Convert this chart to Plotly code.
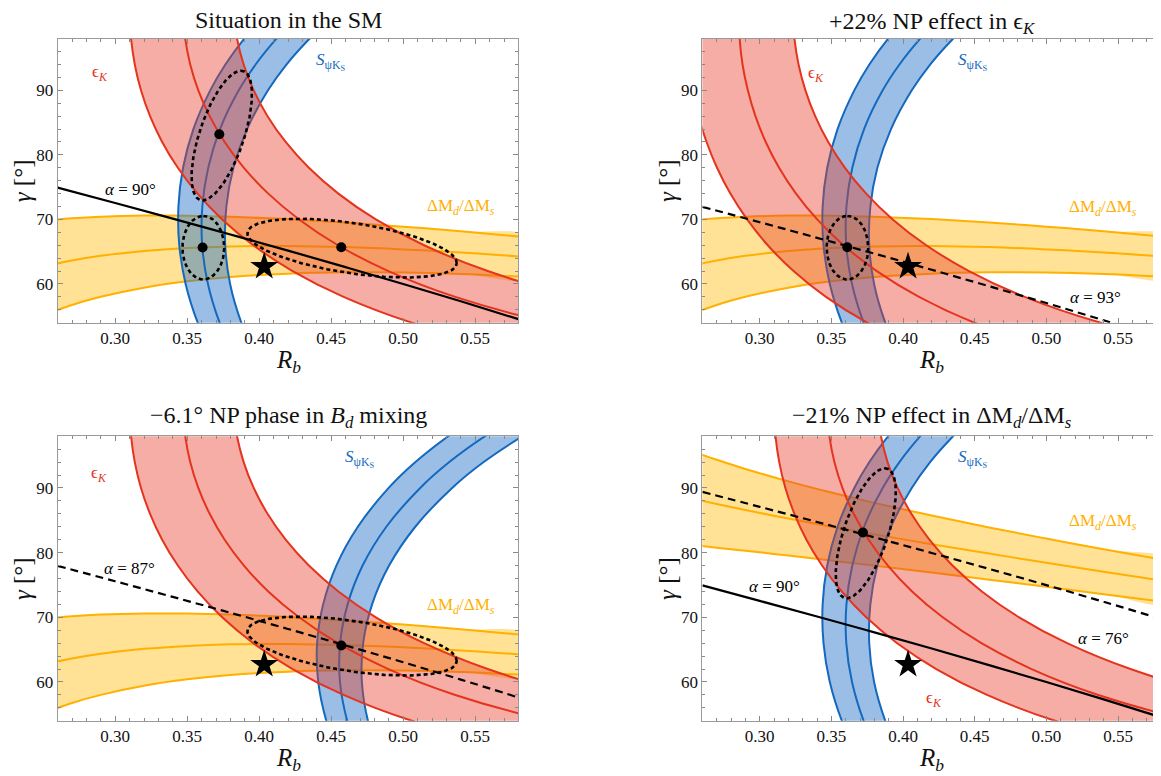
import numpy as np
import plotly.graph_objects as go

# ---------------- data ----------------
TITLES = ["Situation in the SM",
          "+22% NP effect in ϵ<sub><i>K</i></sub>",
          "−6.1° NP phase in <i>B<sub>d</sub></i> mixing",
          "−21% NP effect in ΔM<sub><i>d</i></sub>/ΔM<sub><i>s</i></sub>"]
X_RANGE = [0.26, 0.58]
Y_RANGE = [54, 98]

# S_psiKs bands: R_b at given gamma
GAMMA_S = [50, 54, 60, 66, 72, 78, 84, 90, 94, 98, 101]
S_SM_LOW = [0.3655, 0.3573, 0.3489, 0.3445, 0.3439, 0.3471, 0.3543, 0.3660, 0.3765, 0.3896, 0.4013]
S_SM_MID = [0.3805, 0.3725, 0.3644, 0.3604, 0.3605, 0.3646, 0.3728, 0.3858, 0.3975, 0.4120, 0.4249]
S_SM_HIGH = [0.3954, 0.3876, 0.3798, 0.3764, 0.3772, 0.3821, 0.3916, 0.4061, 0.4189, 0.4349, 0.4489]
S_NP_LOW = [0.4532, 0.4466, 0.4410, 0.4402, 0.4444, 0.4536, 0.4685, 0.4899, 0.5085, 0.5313, 0.5516]
S_NP_MID = [0.4673, 0.4611, 0.4561, 0.4562, 0.4614, 0.4718, 0.4883, 0.5118, 0.5320, 0.5568, 0.5789]
S_NP_HIGH = [0.4814, 0.4755, 0.4713, 0.4722, 0.4784, 0.4902, 0.5084, 0.5340, 0.5559, 0.5829, 0.6069]

# epsilon_K bands: R_b at given gamma
GAMMA_EK = [50, 54, 58, 62, 66, 70, 74, 78, 82, 86, 90, 94, 98, 101]
EK_SM_LOW = [0.5741, 0.5060, 0.4586, 0.4232, 0.3959, 0.3743, 0.3572, 0.3435, 0.3326, 0.3242, 0.3179, 0.3136, 0.3110, 0.3101]
EK_SM_MID = [0.7108, 0.6022, 0.5362, 0.4897, 0.4547, 0.4277, 0.4063, 0.3894, 0.3760, 0.3656, 0.3577, 0.3521, 0.3486, 0.3472]
EK_SM_HIGH = [0.9932, 0.7158, 0.6202, 0.5587, 0.5145, 0.4810, 0.4550, 0.4345, 0.4184, 0.4058, 0.3962, 0.3892, 0.3846, 0.3826]
EK_NP_LOW = [0.4126, 0.3750, 0.3462, 0.3236, 0.3056, 0.2912, 0.2795, 0.2702, 0.2629, 0.2572, 0.2532, 0.2505, 0.2491, 0.2490]
EK_NP_MID = [0.5027, 0.4498, 0.4112, 0.3817, 0.3585, 0.3401, 0.3253, 0.3135, 0.3042, 0.2970, 0.2917, 0.2880, 0.2860, 0.2855]
EK_NP_HIGH = [0.6170, 0.5380, 0.4849, 0.4460, 0.4162, 0.3928, 0.3743, 0.3595, 0.3478, 0.3387, 0.3319, 0.3271, 0.3242, 0.3232]

# Delta M_d / Delta M_s bands: gamma at given R_b
RB_DM = [0.25, 0.27, 0.29, 0.32, 0.35, 0.38, 0.42, 0.46, 0.50, 0.54, 0.59]
DM_SM_HIGH = [69.79, 70.17, 70.42, 70.59, 70.58, 70.42, 70.05, 69.52, 68.88, 68.16, 67.14]
DM_SM_MID = [62.70, 63.64, 64.36, 65.12, 65.58, 65.82, 65.88, 65.71, 65.36, 64.88, 64.12]
DM_SM_LOW = [55.16, 56.75, 58.01, 59.42, 60.41, 61.08, 61.60, 61.80, 61.76, 61.53, 61.04]
DM_NP_HIGH = [95.89, 94.35, 92.94, 91.02, 89.29, 87.69, 85.73, 83.90, 82.17, 80.53, 78.55]
DM_NP_MID = [88.50, 87.51, 86.58, 85.26, 84.01, 82.82, 81.31, 79.85, 78.43, 77.04, 75.34]
DM_NP_LOW = [81.23, 80.77, 80.29, 79.55, 78.78, 77.99, 76.92, 75.82, 74.71, 73.58, 72.14]

# alpha lines: gamma at given R_b
RB_ALPHA = [0.26, 0.30, 0.34, 0.38, 0.42, 0.46, 0.50, 0.54, 0.58]
ALPHA_90 = [74.93, 72.54, 70.12, 67.67, 65.17, 62.61, 60.00, 57.32, 54.55]
ALPHA_93 = [71.95, 69.57, 67.15, 64.70, 62.20, 59.65, 57.05, 54.37, 51.61]
ALPHA_87 = [77.95, 75.57, 73.15, 70.70, 68.20, 65.65, 63.05, 60.37, 57.61]
ALPHA_76 = [89.39, 87.08, 84.74, 82.36, 79.95, 77.49, 74.98, 72.40, 69.75]

# ellipses: centre (Rb, gamma), axis vectors u and v (Rb, gamma)
ELL_UPPER = dict(c=(0.3740, 83.0), u=(0.0133, 10.05), v=(0.0162, 0.0))
ELL_LOWER = dict(c=(0.3612, 65.62), u=(0.0, 4.92), v=(0.0145, 0.0))
ELL_RIGHT = dict(c=(0.4645, 65.55), u=(0.0727, -2.3), v=(0.0, 3.93))

# best-fit points and star
DOTS_P1_X = [0.3723, 0.3607, 0.4570]
DOTS_P1_Y = [83.2, 65.65, 65.7]
DOTS_P2_X, DOTS_P2_Y = [0.3611], [65.7]
DOTS_P3_X, DOTS_P3_Y = [0.4570], [65.65]
DOTS_P4_X, DOTS_P4_Y = [0.3720], [83.1]
STAR_X, STAR_Y = [0.4035], [62.7]

# ---------------- styling ----------------
FONT = "Liberation Serif, DejaVu Serif, serif"
RED_LINE = "rgb(228,52,30)"
RED_FILL = "rgba(230,60,40,0.42)"
BLUE_LINE = "rgb(20,105,190)"
BLUE_FILL = "rgba(30,110,200,0.45)"
ORA_LINE = "rgb(255,176,0)"
ORA_FILL = "rgba(255,190,20,0.45)"

W, H = 1161, 776
OFF = 8  # page margin of the html body
PANEL_PX = [((57.6, 518.4), (38.7, 322.7)),
            ((702.4, 1161.0), (38.7, 322.7)),
            ((57.6, 518.4), (436.2, 720.8)),
            ((702.4, 1161.0), (436.2, 720.8))]
TITLE_DY = [19, 16, 19, 19]


def fx(px):
    return (px - OFF) / W


def fy(py):
    return 1 - (py - OFF) / H


fig = go.Figure()


def axn(i):
    return ("x", "y") if i == 1 else (f"x{i}", f"y{i}")


def add_band(i, lo, mid, hi, fillc, linec):
    xa, ya = axn(i)
    px = list(lo[0]) + list(hi[0])[::-1]
    py = list(lo[1]) + list(hi[1])[::-1]
    fig.add_trace(go.Scatter(x=px, y=py, mode="lines", fill="toself", fillcolor=fillc,
                             line=dict(width=0, shape="spline", color=fillc),
                             hoverinfo="skip", showlegend=False, xaxis=xa, yaxis=ya))
    for cx, cy in (lo, mid, hi):
        fig.add_trace(go.Scatter(x=cx, y=cy, mode="lines",
                                 line=dict(width=2, shape="spline", color=linec),
                                 hoverinfo="skip", showlegend=False, xaxis=xa, yaxis=ya))


def add_line(i, ys, dash):
    xa, ya = axn(i)
    fig.add_trace(go.Scatter(x=RB_ALPHA, y=ys, mode="lines",
                             line=dict(width=2.2, color="black", dash=dash, shape="spline"),
                             hoverinfo="skip", showlegend=False, xaxis=xa, yaxis=ya))


def add_ellipse(i, e):
    xa, ya = axn(i)
    t = np.linspace(0, 2 * np.pi, 240)
    x = e["c"][0] + e["u"][0] * np.cos(t) + e["v"][0] * np.sin(t)
    y = e["c"][1] + e["u"][1] * np.cos(t) + e["v"][1] * np.sin(t)
    fig.add_trace(go.Scatter(x=x, y=y, mode="lines",
                             line=dict(width=2.6, color="black", dash="4px,3px"),
                             hoverinfo="skip", showlegend=False, xaxis=xa, yaxis=ya))


def add_points(i, xs, ys, star=False):
    xa, ya = axn(i)
    fig.add_trace(go.Scatter(x=xs, y=ys, mode="markers",
                             marker=dict(symbol="star" if star else "circle",
                                         size=21 if star else 10, color="black",
                                         line=dict(width=0)),
                             hoverinfo="skip", showlegend=False, xaxis=xa, yaxis=ya))


S_SM = [(S_SM_LOW, GAMMA_S), (S_SM_MID, GAMMA_S), (S_SM_HIGH, GAMMA_S)]
S_NP = [(S_NP_LOW, GAMMA_S), (S_NP_MID, GAMMA_S), (S_NP_HIGH, GAMMA_S)]
EK_SM = [(EK_SM_LOW, GAMMA_EK), (EK_SM_MID, GAMMA_EK), (EK_SM_HIGH, GAMMA_EK)]
EK_NP = [(EK_NP_LOW, GAMMA_EK), (EK_NP_MID, GAMMA_EK), (EK_NP_HIGH, GAMMA_EK)]
DM_SM = [(RB_DM, DM_SM_LOW), (RB_DM, DM_SM_MID), (RB_DM, DM_SM_HIGH)]
DM_NP = [(RB_DM, DM_NP_LOW), (RB_DM, DM_NP_MID), (RB_DM, DM_NP_HIGH)]

PANELS = [
    dict(dm=DM_SM, s=S_SM, ek=EK_SM, lines=[(ALPHA_90, "solid")],
         ells=[ELL_UPPER, ELL_LOWER, ELL_RIGHT], dots=(DOTS_P1_X, DOTS_P1_Y), star=True),
    dict(dm=DM_SM, s=S_SM, ek=EK_NP, lines=[(ALPHA_93, "8px,5px")],
         ells=[ELL_LOWER], dots=(DOTS_P2_X, DOTS_P2_Y), star=True),
    dict(dm=DM_SM, s=S_NP, ek=EK_SM, lines=[(ALPHA_87, "8px,5px")],
         ells=[ELL_RIGHT], dots=(DOTS_P3_X, DOTS_P3_Y), star=True),
    dict(dm=DM_NP, s=S_SM, ek=EK_SM, lines=[(ALPHA_90, "solid"), (ALPHA_76, "8px,5px")],
         ells=[ELL_UPPER], dots=(DOTS_P4_X, DOTS_P4_Y), star=True),
]

# labels inside panels: (text, Rb, gamma, colour)
EK_TXT = "ϵ<sub><i>K</i></sub>"
S_TXT = "<i>S</i><sub>ψK<sub>S</sub></sub>"
DM_TXT = "ΔM<sub><i>d</i></sub>/ΔM<sub><i>s</i></sub>"
LABELS = [
    [(EK_TXT, 0.2895, 92.7, RED_LINE), (S_TXT, 0.4501, 94.5, BLUE_LINE),
     (DM_TXT, 0.5402, 71.9, ORA_LINE), ("<i>α</i> = 90°", 0.3103, 74.7, "black")],
    [(EK_TXT, 0.3391, 92.6, RED_LINE), (S_TXT, 0.4491, 94.5, BLUE_LINE),
     (DM_TXT, 0.5394, 71.8, ORA_LINE), ("<i>α</i> = 93°", 0.5343, 57.9, "black")],
    [(EK_TXT, 0.2890, 92.2, RED_LINE), (S_TXT, 0.4700, 94.5, BLUE_LINE),
     (DM_TXT, 0.5402, 71.7, ORA_LINE), ("<i>α</i> = 87°", 0.3096, 77.5, "black")],
    [(EK_TXT, 0.4213, 57.3, RED_LINE), (S_TXT, 0.4491, 94.5, BLUE_LINE),
     (DM_TXT, 0.5394, 84.7, ORA_LINE), ("<i>α</i> = 90°", 0.3102, 74.8, "black"),
     ("<i>α</i> = 76°", 0.5398, 66.8, "black")],
]

annotations = []
for i, p in enumerate(PANELS, start=1):
    add_band(i, *p["dm"], ORA_FILL, ORA_LINE)
    add_band(i, *p["s"], BLUE_FILL, BLUE_LINE)
    add_band(i, *p["ek"], RED_FILL, RED_LINE)
    for ys, dash in p["lines"]:
        add_line(i, ys, dash)
    for e in p["ells"]:
        add_ellipse(i, e)
    add_points(i, *p["dots"])
    if p["star"]:
        add_points(i, STAR_X, STAR_Y, star=True)

    (x0, x1), (y0, y1) = PANEL_PX[i - 1]
    xa, ya = axn(i)
    common = dict(showgrid=False, zeroline=False, showline=True, linecolor="#9a9a9a",
                  linewidth=1, mirror="ticks", ticks="inside", ticklen=5, tickcolor="#8a8a8a",
                  tickfont=dict(family=FONT, size=17, color="#111"))
    fig.update_layout(**{
        ("xaxis" if i == 1 else f"xaxis{i}"): dict(
            domain=[fx(x0), min(fx(x1), 1.0)], anchor=ya, range=X_RANGE, tickmode="linear",
            tick0=0.30, dtick=0.05, tickformat=".2f",
            minor=dict(dtick=0.01, ticks="inside", ticklen=3, tickcolor="#8a8a8a"), **common),
        ("yaxis" if i == 1 else f"yaxis{i}"): dict(
            domain=[fy(y1), fy(y0)], anchor=xa, range=Y_RANGE, tickmode="linear",
            tick0=60, dtick=10,
            minor=dict(dtick=2, ticks="inside", ticklen=3, tickcolor="#8a8a8a"), **common),
    })

    for txt, lx, ly, col in LABELS[i - 1]:
        annotations.append(dict(text=txt, x=lx, y=ly, xref=xa, yref=ya, showarrow=False,
                                font=dict(family=FONT, size=17, color=col)))
    cx = (x0 + x1) / 2
    annotations.append(dict(text=TITLES[i - 1], x=fx(cx), y=fy(y0 - TITLE_DY[i - 1]),
                            xref="paper", yref="paper", showarrow=False,
                            xanchor="center", yanchor="middle",
                            font=dict(family=FONT, size=24, color="#111")))
    annotations.append(dict(text="<i>R</i><sub><i>b</i></sub>", x=fx(cx), y=fy(y1 + 39),
                            xref="paper", yref="paper", showarrow=False,
                            xanchor="center", yanchor="middle",
                            font=dict(family=FONT, size=25, color="#111")))
    annotations.append(dict(text="<i>γ</i> [°]", x=fx(x0 - 35), y=fy((y0 + y1) / 2),
                            xref="paper", yref="paper", showarrow=False, textangle=-90,
                            xanchor="center", yanchor="middle",
                            font=dict(family=FONT, size=25, color="#111")))

fig.update_layout(width=W, height=H, margin=dict(l=0, r=0, t=0, b=0),
                  paper_bgcolor="white", plot_bgcolor="white", showlegend=False,
                  annotations=annotations, font=dict(family=FONT))

fig.write_html("out.html")
